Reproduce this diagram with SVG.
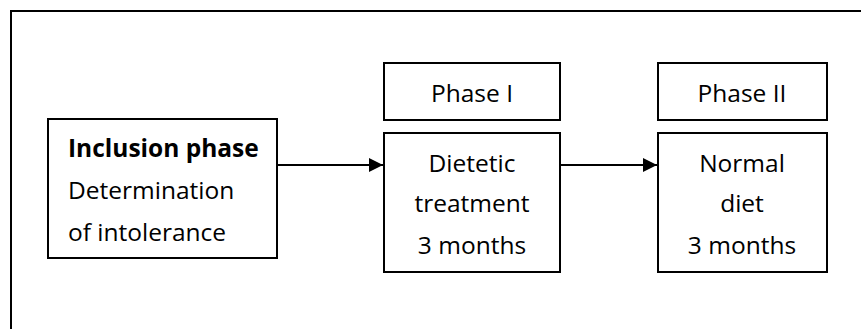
<svg xmlns="http://www.w3.org/2000/svg" width="861" height="329" viewBox="0 0 861 329">
<defs>
<style>
.box{fill:#fff;stroke:#000;stroke-width:2}
.t{font-family:"Open Sans","Liberation Sans",sans-serif;font-size:24.5px;fill:#000}
.c{text-anchor:middle}
.b{font-weight:bold}
.edge{stroke:#000;stroke-width:2;fill:none}
</style>
<marker id="ah" viewBox="0 0 10 10" refX="10" refY="5" markerWidth="15" markerHeight="14" markerUnits="userSpaceOnUse" orient="auto">
<path d="M0,0 L10,5 L0,10 Z" fill="#000"/>
</marker>
</defs>
<rect width="861" height="329" fill="#fff"/>
<g id="frame">
<path d="M11,329 V11 H861" class="edge"/>
</g>
<g id="inclusion">
<rect class="box" x="48" y="119" width="229" height="139"/>
<text class="t b" x="68" y="157">Inclusion phase</text>
<text class="t" x="68" y="199">Determination</text>
<text class="t" x="68" y="241">of intolerance</text>
</g>
<g id="phase1-label">
<rect class="box" x="384" y="63" width="176" height="57"/>
<text class="t c" x="472" y="102">Phase I</text>
</g>
<g id="phase1">
<rect class="box" x="384" y="133" width="176" height="139"/>
<text class="t c" x="472" y="172">Dietetic</text>
<text class="t c" x="472" y="212">treatment</text>
<text class="t c" x="472" y="254">3 months</text>
</g>
<g id="phase2-label">
<rect class="box" x="658" y="63" width="169" height="57"/>
<text class="t c" x="742" y="102">Phase II</text>
</g>
<g id="phase2">
<rect class="box" x="658" y="133" width="169" height="139"/>
<text class="t c" x="742" y="172">Normal</text>
<text class="t c" x="742" y="212">diet</text>
<text class="t c" x="742" y="254">3 months</text>
</g>
<g id="connectors">
<line class="edge" x1="277" y1="165" x2="383" y2="165" marker-end="url(#ah)"/>
<line class="edge" x1="560" y1="165" x2="657" y2="165" marker-end="url(#ah)"/>
</g>
</svg>
